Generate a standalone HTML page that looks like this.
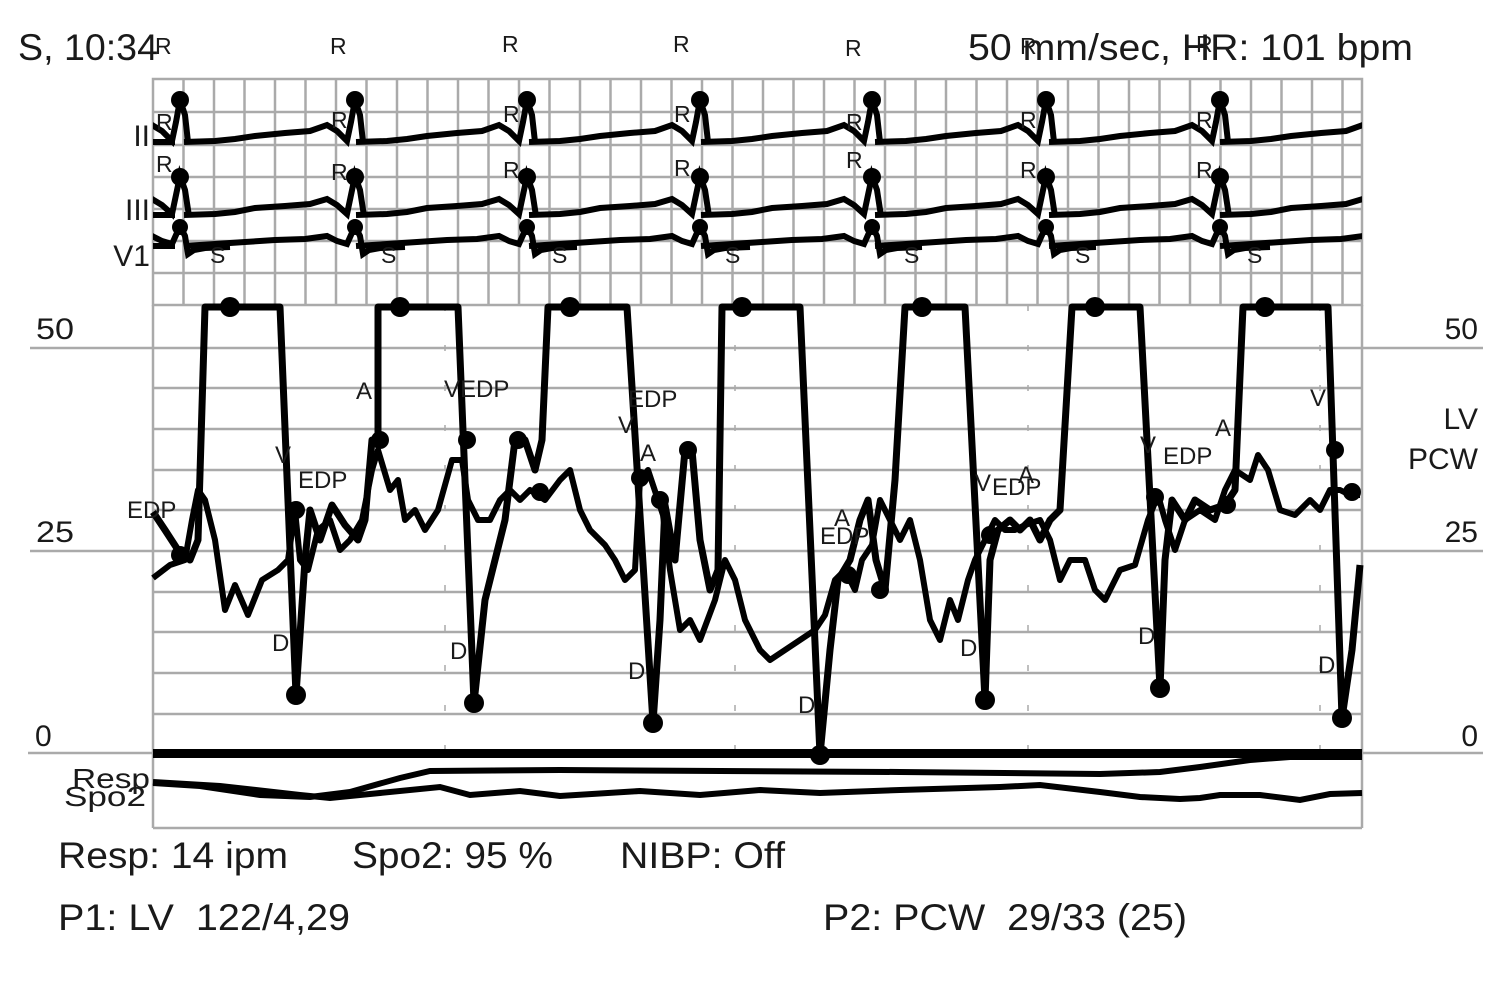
<!DOCTYPE html>
<html><head><meta charset="utf-8"><style>
html,body{margin:0;padding:0;background:#fff;}
svg{display:block;}
text{font-family:"Liberation Sans",sans-serif;fill:#1a1a1a;}
</style></head><body>
<svg width="1500" height="1002" viewBox="0 0 1500 1002" xmlns="http://www.w3.org/2000/svg">
<defs>
<clipPath id="ecgclip"><rect x="153" y="78" width="1209" height="230"/></clipPath>
<clipPath id="pclip"><rect x="150" y="290" width="1214" height="475"/></clipPath>
<path id="ii" d="M-171,142 L-140,141 L-120,139 L-100,136 L-70,133 L-45,131 L-28,125 L-18,131 L-8,141 L-4,122 L0,100 L5,115 L8,142" fill="none" stroke="#000" stroke-width="6"/>
<path id="iii" d="M-171,215 L-140,214 L-120,212 L-100,208 L-70,206 L-45,204 L-28,199 L-18,205 L-8,214 L-4,195 L0,176 L5,190 L9,216" fill="none" stroke="#000" stroke-width="6"/>
<path id="v1" d="M-171,246 L-140,244 L-110,242 L-80,240 L-50,239 L-28,236 L-18,241 L-8,244 L-4,235 L0,226 L5,236 L8,254 L14,250 L25,248 L50,247" fill="none" stroke="#000" stroke-width="6"/>
</defs>
<g stroke="#aaa" stroke-width="2.5">
<rect x="153" y="79" width="1209" height="226" fill="none"/>
<path d="M183.5,79V305M214,79V305M244.5,79V305M275,79V305M305.5,79V305M336,79V305M366.5,79V305M397,79V305M427.5,79V305M458,79V305M488.5,79V305M519,79V305M549.5,79V305M580,79V305M610.5,79V305M641,79V305M671.5,79V305M702,79V305M732.5,79V305M763,79V305M793.5,79V305M824,79V305M854.5,79V305M885,79V305M915.5,79V305M946,79V305M976.5,79V305M1007,79V305M1037.5,79V305M1068,79V305M1098.5,79V305M1129,79V305M1159.5,79V305M1190,79V305M1220.5,79V305M1251,79V305M1281.5,79V305M1312,79V305M1342.5,79V305"/>
<path d="M153,112H1362M153,145H1362M153,177H1362M153,209H1362M153,241H1362M153,273H1362"/>
</g>
<g stroke="#aaa" stroke-width="2.5" fill="none">
<path d="M153,305V828M1362,305V828M153,828H1362"/>
<path d="M153,388H1362M153,429H1362M153,470H1362M153,510H1362M153,592H1362M153,632H1362M153,673H1362M153,714H1362"/>
<path d="M30,348H1483M30,551H1483M28,753H1483"/>
<path d="M445,305V753M735,305V753M1028,305V753M1320,305V753" stroke-width="1.5" stroke-dasharray="6 34"/>
</g>
<g clip-path="url(#ecgclip)">
<use href="#ii" x="180"/><use href="#ii" x="355"/><use href="#ii" x="527"/><use href="#ii" x="700"/><use href="#ii" x="872"/><use href="#ii" x="1046"/><use href="#ii" x="1220"/><use href="#ii" x="1391"/>
<use href="#iii" x="180"/><use href="#iii" x="355"/><use href="#iii" x="527"/><use href="#iii" x="700"/><use href="#iii" x="872"/><use href="#iii" x="1046"/><use href="#iii" x="1220"/><use href="#iii" x="1391"/>
<use href="#v1" x="180"/><use href="#v1" x="355"/><use href="#v1" x="527"/><use href="#v1" x="700"/><use href="#v1" x="872"/><use href="#v1" x="1046"/><use href="#v1" x="1220"/><use href="#v1" x="1391"/>
<path d="M153,142H175M153,215H175M153,246H175" stroke="#000" stroke-width="6"/>
</g>
<g fill="#000">
<circle cx="180" cy="100" r="9"/><circle cx="355" cy="100" r="9"/><circle cx="527" cy="100" r="9"/><circle cx="700" cy="100" r="9"/><circle cx="872" cy="100" r="9"/><circle cx="1046" cy="100" r="9"/><circle cx="1220" cy="100" r="9"/>
<circle cx="180" cy="177" r="9"/><circle cx="355" cy="177" r="9"/><circle cx="527" cy="177" r="9"/><circle cx="700" cy="177" r="9"/><circle cx="872" cy="177" r="9"/><circle cx="1046" cy="177" r="9"/><circle cx="1220" cy="177" r="9"/>
<circle cx="180" cy="227" r="8"/><circle cx="355" cy="227" r="8"/><circle cx="527" cy="227" r="8"/><circle cx="700" cy="227" r="8"/><circle cx="872" cy="227" r="8"/><circle cx="1046" cy="227" r="8"/><circle cx="1220" cy="227" r="8"/>
</g>
<g font-size="23">
<text x="156" y="130">R</text><text x="331" y="128">R</text><text x="503" y="122">R</text><text x="674" y="122">R</text><text x="846" y="130">R</text><text x="1020" y="128">R</text><text x="1196" y="128">R</text>
<text x="156" y="172">R</text><text x="331" y="180">R</text><text x="503" y="178">R</text><text x="674" y="176">R</text><text x="846" y="168">R</text><text x="1020" y="178">R</text><text x="1196" y="178">R</text>
<text x="210" y="263">S</text><text x="381" y="263">S</text><text x="552" y="263">S</text><text x="725" y="263">S</text><text x="904" y="263">S</text><text x="1075" y="263">S</text><text x="1247" y="263">S</text>
<text x="155" y="54">R</text><text x="330" y="54">R</text><text x="502" y="52">R</text><text x="673" y="52">R</text><text x="845" y="56">R</text><text x="1020" y="54">R</text><text x="1196" y="52">R</text>
</g>
<g clip-path="url(#pclip)" fill="none" stroke="#000" stroke-linejoin="round">
<path stroke-width="7" d="M153,512 L165,530 L178,550 L190,560 L198,540 L205,307 L280,307 L296,695 L305,560 L310,510 L320,540 L332,505 L345,525 L358,540 L365,520 L372,440 L378,440 L378,307 L458,307 L474,703 L485,600 L495,560 L505,520 L515,440 L525,440 L535,470 L542,440 L548,307 L627,307 L653,723 L660,620 L665,505 L675,560 L685,450 L692,450 L700,540 L710,590 L718,570 L722,307 L800,307 L820,755 L830,650 L838,580 L850,560 L860,520 L868,500 L876,560 L885,590 L895,480 L905,307 L965,307 L985,700 L990,560 L998,530 L1010,520 L1020,530 L1030,520 L1040,540 L1050,520 L1060,510 L1072,307 L1140,307 L1160,688 L1165,560 L1172,500 L1185,520 L1195,500 L1210,510 L1225,505 L1235,490 L1243,307 L1328,307 L1342,718 L1352,650 L1360,565"/>
<path stroke-width="6" d="M153,578 L170,565 L185,560 L192,520 L198,490 L205,500 L215,540 L225,610 L235,585 L248,615 L262,580 L278,570 L288,560 L295,510 L300,560 L308,570 L318,530 L330,520 L340,550 L350,540 L362,520 L372,470 L378,450 L390,490 L398,480 L405,520 L415,510 L425,530 L438,510 L452,460 L462,460 L468,500 L478,520 L490,520 L500,500 L510,490 L520,500 L530,490 L545,500 L560,480 L570,470 L580,510 L590,530 L605,545 L615,560 L625,580 L635,570 L640,480 L648,470 L658,500 L663,515 L670,570 L680,630 L690,620 L700,640 L715,600 L725,560 L735,580 L745,620 L760,650 L770,660 L785,650 L800,640 L815,630 L825,615 L835,580 L845,570 L855,590 L862,560 L872,545 L880,500 L890,520 L900,540 L910,520 L920,560 L930,620 L940,640 L950,600 L958,620 L968,580 L975,560 L985,540 L995,520 L1005,530 L1015,530 L1025,525 L1040,520 L1050,540 L1060,580 L1070,560 L1085,560 L1095,590 L1105,600 L1120,570 L1135,565 L1148,520 L1158,495 L1165,520 L1175,550 L1185,520 L1200,510 L1215,520 L1225,490 L1235,470 L1250,480 L1258,455 L1268,470 L1280,510 L1295,515 L1310,500 L1320,510 L1330,490 L1340,490 L1350,495 L1360,495"/>
</g>
<g fill="#000">
<circle cx="230" cy="307" r="10"/><circle cx="400" cy="307" r="10"/><circle cx="570" cy="307" r="10"/><circle cx="742" cy="307" r="10"/><circle cx="922" cy="307" r="10"/><circle cx="1095" cy="307" r="10"/><circle cx="1265" cy="307" r="10"/>
<circle cx="296" cy="695" r="10"/><circle cx="474" cy="703" r="10"/><circle cx="653" cy="723" r="10"/><circle cx="820" cy="755" r="10"/><circle cx="985" cy="700" r="10"/><circle cx="1160" cy="688" r="10"/><circle cx="1342" cy="718" r="10"/>
<circle cx="296" cy="510" r="9"/><circle cx="380" cy="440" r="9"/><circle cx="467" cy="440" r="9"/><circle cx="518" cy="440" r="9"/><circle cx="540" cy="492" r="9"/><circle cx="640" cy="478" r="9"/><circle cx="660" cy="500" r="9"/><circle cx="688" cy="450" r="9"/><circle cx="848" cy="575" r="9"/><circle cx="880" cy="590" r="9"/><circle cx="990" cy="535" r="9"/><circle cx="1155" cy="497" r="9"/><circle cx="1227" cy="505" r="9"/><circle cx="1335" cy="450" r="9"/><circle cx="1352" cy="492" r="9"/><circle cx="180" cy="555" r="9"/>
</g>
<g font-size="24">
<text x="127" y="518">EDP</text><text x="275" y="463">V</text><text x="298" y="488">EDP</text><text x="356" y="399">A</text>
<text x="444" y="397">VEDP</text><text x="618" y="433">V</text><text x="628" y="407">EDP</text><text x="640" y="461">A</text>
<text x="820" y="544">EDP</text><text x="834" y="526">A</text><text x="975" y="491">V</text><text x="992" y="495">EDP</text><text x="1018" y="483">A</text>
<text x="1140" y="453">V</text><text x="1163" y="464">EDP</text><text x="1215" y="436">A</text><text x="1310" y="406">V</text>
<text x="272" y="651">D</text><text x="450" y="659">D</text><text x="628" y="679">D</text><text x="798" y="713">D</text><text x="960" y="656">D</text><text x="1138" y="644">D</text><text x="1318" y="673">D</text>
</g>
<rect x="153" y="749" width="1209" height="9" fill="#000"/>
<g fill="none" stroke="#000" stroke-width="6">
<path d="M153,783 L200,786 L260,795 L310,797 L350,792 L400,778 L430,771 L560,770 L900,772 L1100,774 L1160,772 L1200,767 L1250,760 L1290,757 L1362,757"/>
<path d="M153,782 L220,786 L300,795 L330,798 L380,793 L440,787 L470,795 L520,791 L560,796 L640,791 L700,795 L760,790 L820,793 L900,790 L1000,787 L1040,785 L1100,792 L1140,797 L1180,799 L1200,798 L1220,795 L1260,795 L1300,800 L1330,794 L1362,793"/>
</g>
<g font-size="28"><text x="72" y="788" textLength="78" lengthAdjust="spacingAndGlyphs">Resp</text><text x="64" y="806" textLength="82" lengthAdjust="spacingAndGlyphs">Spo2</text></g>
<g font-size="30">
<text x="36" y="339" textLength="38" lengthAdjust="spacingAndGlyphs">50</text><text x="36" y="542" textLength="38" lengthAdjust="spacingAndGlyphs">25</text><text x="35" y="746">0</text>
<text x="1478" y="339" text-anchor="end">50</text><text x="1478" y="429" text-anchor="end">LV</text><text x="1478" y="469" text-anchor="end">PCW</text><text x="1478" y="542" text-anchor="end">25</text><text x="1478" y="746" text-anchor="end">0</text>
<text x="150" y="146" text-anchor="end">II</text><text x="150" y="220" text-anchor="end">III</text><text x="150" y="266" text-anchor="end">V1</text>
</g>
<g font-size="37">
<text x="18" y="60" textLength="140" lengthAdjust="spacingAndGlyphs">S, 10:34</text>
<text x="968" y="60" textLength="445" lengthAdjust="spacingAndGlyphs">50 mm/sec, HR: 101 bpm</text>
<text x="58" y="868" textLength="230" lengthAdjust="spacingAndGlyphs">Resp: 14 ipm</text><text x="352" y="868" textLength="201" lengthAdjust="spacingAndGlyphs">Spo2: 95 %</text><text x="620" y="868" textLength="165" lengthAdjust="spacingAndGlyphs">NIBP: Off</text>
<text x="58" y="930" xml:space="preserve" textLength="292" lengthAdjust="spacingAndGlyphs">P1: LV  122/4,29</text><text x="823" y="930" xml:space="preserve" textLength="364" lengthAdjust="spacingAndGlyphs">P2: PCW  29/33 (25)</text>
</g>
</svg>
</body></html>
